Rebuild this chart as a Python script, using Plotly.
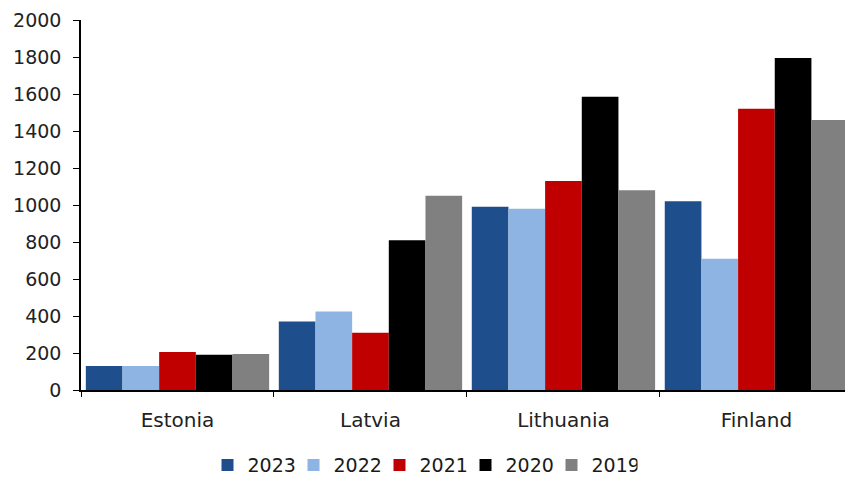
import plotly.graph_objects as go

countries = ["Estonia", "Latvia", "Lithuania", "Finland"]
years = ["2023", "2022", "2021", "2020", "2019"]
v2023 = [130, 370, 990, 1020]
v2022 = [130, 425, 980, 710]
v2021 = [205, 310, 1130, 1520]
v2020 = [190, 810, 1585, 1795]
v2019 = [195, 1050, 1080, 1460]
series = [v2023, v2022, v2021, v2020, v2019]
colors = ["#1F4E8C", "#8DB4E2", "#C00000", "#000000", "#808080"]

fig = go.Figure()
for y, vals, c in zip(years, series, colors):
    fig.add_trace(go.Bar(x=countries, y=vals, name=y, marker=dict(color=c, line=dict(width=0))))

font = "DejaVu Sans"
fig.update_layout(
    width=845, height=478,
    margin=dict(l=81, r=0, t=20, b=88, autoexpand=False),
    paper_bgcolor="white", plot_bgcolor="white",
    barmode="group", bargap=0.05, bargroupgap=0,
    font=dict(family=font, size=19, color="#222222"),
    showlegend=True,
    legend=dict(orientation="h", xref="container", x=0.5, xanchor="center",
                yref="container", y=0.027, yanchor="middle",
                font=dict(size=19, color="#1a1a1a"), itemwidth=30,
                entrywidth=41, entrywidthmode="pixels", traceorder="normal"),
    xaxis=dict(range=[-0.5, 3.459], showline=True, linecolor="#000000", linewidth=1.5,
               ticks="outside", tickson="boundaries", ticklen=5, tickcolor="#000000",
               tickfont=dict(size=20), ticklabelstandoff=11, showgrid=False, fixedrange=True),
    yaxis=dict(range=[0, 2000], dtick=200, showline=True, linecolor="#000000", linewidth=1.5,
               ticks="outside", ticklen=6, tickcolor="#000000", showgrid=False,
               zeroline=False, tickfont=dict(size=19), ticklabelstandoff=8, fixedrange=True),
)
fig.write_html("out.html")
